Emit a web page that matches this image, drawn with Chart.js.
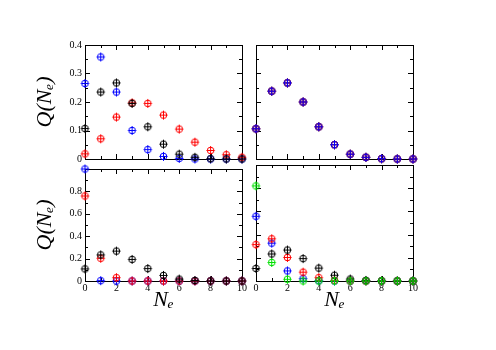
<!DOCTYPE html>
<html>
<head>
<meta charset="utf-8">
<script src="https://cdn.jsdelivr.net/npm/chart.js@4"></script>
<style>
  body { margin: 0; background: #fff; }
  #wrap { position: relative; width: 496px; height: 350px; overflow: hidden; }
  canvas { position: absolute; }
</style>
</head>
<body>
<div id="wrap">
  <canvas id="pa" width="250" height="170" style="left:0px;top:0px"></canvas>
  <canvas id="pb" width="246" height="170" style="left:250px;top:0px"></canvas>
  <canvas id="pc" width="250" height="190" style="left:0px;top:160px"></canvas>
  <canvas id="pd" width="246" height="190" style="left:250px;top:160px"></canvas>
</div>
<script>
// number of electrons, x axis of every panel
const ne = [0, 1, 2, 3, 4, 5, 6, 7, 8, 9, 10];

// panel (a)
const aBlack = [0.107, 0.235, 0.267, 0.195, 0.113, 0.052, 0.017, 0.006, 0.001, 0, 0];
const aRed   = [0.018, 0.071, 0.147, 0.197, 0.195, 0.154, 0.105, 0.059, 0.030, 0.015, 0.006];
const aBlue  = [0.265, 0.358, 0.235, 0.100, 0.033, 0.009, 0.002, 0, 0, 0, 0];

// panel (b)
const bBlack = [0.106, 0.238, 0.267, 0.200, 0.113, 0.050, 0.017, 0.006, 0.001, 0, 0];
const bRed   = [0.106, 0.238, 0.267, 0.200, 0.113, 0.050, 0.017, 0.006, 0.001, 0, 0];
const bBlue  = [0.106, 0.238, 0.267, 0.200, 0.113, 0.050, 0.017, 0.006, 0.001, 0, 0];

// panel (c)
const cBlack = [0.108, 0.233, 0.267, 0.193, 0.111, 0.050, 0.017, 0.005, 0.001, 0, 0];
const cRed   = [0.759, 0.203, 0.030, 0, 0, 0, 0, 0, 0, 0, 0];
const cBlue  = [1.0, 0.003, 0, 0, 0, 0, 0, 0, 0, 0, 0];

// panel (d)
const dBlack = [0.108, 0.233, 0.267, 0.193, 0.111, 0.050, 0.017, 0.005, 0.001, 0, 0];
const dRed   = [0.314, 0.364, 0.203, 0.076, 0.029, 0.006, 0.001, 0, 0, 0, 0];
const dBlue  = [0.558, 0.326, 0.087, 0.020, 0.003, 0, 0, 0, 0, 0, 0];
const dGreen = [0.820, 0.160, 0.015, 0, 0, 0, 0, 0, 0, 0, 0];

const yTitle = 'Q(N\u2091)';
const xTitle = 'N\u2091';

const FONT = "'Liberation Serif', 'DejaVu Serif', serif";
Chart.defaults.color = '#000';
Chart.defaults.font.family = FONT;

// circle with a plus through it, like the grace symbols
function marker( color ){
  let c = document.createElement('canvas');
  c.width = 11; c.height = 11;
  let g = c.getContext('2d');
  g.strokeStyle = color;
  g.lineWidth = 1;
  g.beginPath();
  g.arc(5.5, 5.5, 3.3, 0, Math.PI * 2);
  g.stroke();
  g.beginPath();
  g.moveTo(5.5, 1); g.lineTo(5.5, 10);
  g.moveTo(1.5, 5.5); g.lineTo(9.5, 5.5);
  g.stroke();
  return c;
}
const sym = {
  black: marker('#000000'),
  red:   marker('#ff0000'),
  blue:  marker('#0000ff'),
  green: marker('#00e000')
};

function pts( vals ){
  return ne.map( (x, i) => ({ x: x, y: vals[i] }) );
}

function ds( vals, col ){
  return { data: pts(vals), pointStyle: sym[col], showLine: false, clip: false };
}

// frame on all four sides with inward ticks
const framePlugin = {
  id: 'frame',
  beforeDatasetsDraw( chart ){
    let ctx = chart.ctx;
    let ca = chart.chartArea;
    let xs = chart.scales.x, ys = chart.scales.y;
    let p = chart.options.plugins.frame;
    ctx.save();
    ctx.strokeStyle = '#000';
    ctx.lineWidth = 1;
    ctx.strokeRect(Math.round(ca.left) + 0.5, Math.round(ca.top) + 0.5,
                   Math.round(ca.right - ca.left), Math.round(ca.bottom - ca.top));
    ctx.beginPath();
    for( let v = 0 ; v <= 10 ; v++ ){
      let px = Math.round(xs.getPixelForValue(v)) + 0.5;
      let len = v % 2 == 0 ? 5 : 3;
      ctx.moveTo(px, ca.bottom); ctx.lineTo(px, ca.bottom - len);
      ctx.moveTo(px, ca.top); ctx.lineTo(px, ca.top + len);
    }
    let n = Math.round(p.max / p.minor);
    let every = Math.round(p.major / p.minor);
    for( let i = 0 ; i <= n ; i++ ){
      let py = Math.round(ys.getPixelForValue(i * p.minor)) + 0.5;
      let len = i % every == 0 ? 5 : 3;
      ctx.moveTo(ca.left, py); ctx.lineTo(ca.left + len, py);
      ctx.moveTo(ca.right, py); ctx.lineTo(ca.right - len, py);
    }
    ctx.stroke();
    ctx.restore();
  }
};

function makePanel( id, datasets, o ){
  return new Chart(document.getElementById(id), {
    type: 'scatter',
    data: { datasets: datasets },
    options: {
      responsive: false,
      animation: false,
      layout: { padding: o.pad },
      plugins: {
        legend: { display: false },
        tooltip: { enabled: false },
        frame: { max: o.yMax, major: o.yMajor, minor: o.yMinor }
      },
      scales: {
        x: {
          type: 'linear', min: 0, max: 10,
          grid: { display: false, drawTicks: false },
          border: { display: false },
          ticks: { display: o.xLabels, stepSize: 2, padding: 1, maxRotation: 0,
                   font: { size: 10, family: FONT } },
          title: { display: o.xLabels, text: xTitle, padding: { top: 0, bottom: 8 },
                   font: { size: 22, style: 'italic', family: FONT } },
          afterFit: s => { s.height = o.xH; }
        },
        y: {
          type: 'linear', min: 0, max: o.yMax,
          grid: { display: false, drawTicks: false },
          border: { display: false },
          ticks: { display: o.yLabels, stepSize: o.yMajor, padding: 3,
                   font: { size: 10, family: FONT },
                   callback: v => ( o.yMax == 1 && v > 0.99 ) ? '' : String(+v.toFixed(2)) },
          title: { display: o.yLabels, text: yTitle, padding: { top: 32, bottom: 0 },
                   font: { size: 22, style: 'italic', family: FONT } },
          afterFit: s => { s.width = o.yW; }
        }
      }
    },
    plugins: [ framePlugin ]
  });
}

makePanel('pa', [ ds(aBlack, 'black'), ds(aRed, 'red'), ds(aBlue, 'blue') ], {
  pad: { left: 0, top: 45, right: 8, bottom: 11 },
  yMax: 0.4, yMajor: 0.1, yMinor: 0.05, yLabels: true, xLabels: false, yW: 85, xH: 0
});
makePanel('pb', [ ds(bBlue, 'blue'), ds(bRed, 'red'), ds(bBlack, 'black') ], {
  pad: { left: 6, top: 45, right: 83, bottom: 11 },
  yMax: 0.4, yMajor: 0.1, yMinor: 0.05, yLabels: false, xLabels: false, yW: 0, xH: 0
});
makePanel('pc', [ ds(cBlack, 'black'), ds(cRed, 'red'), ds(cBlue, 'blue') ], {
  pad: { left: 0, top: 5, right: 8, bottom: 29 },
  yMax: 1, yMajor: 0.2, yMinor: 0.1, yLabels: true, xLabels: true, yW: 85, xH: 40
});
makePanel('pd', [ ds(dGreen, 'green'), ds(dBlack, 'black'), ds(dRed, 'red'), ds(dBlue, 'blue') ], {
  pad: { left: 6, top: 5, right: 83, bottom: 29 },
  yMax: 1, yMajor: 0.2, yMinor: 0.1, yLabels: false, xLabels: true, yW: 0, xH: 40
});
</script>
</body>
</html>
